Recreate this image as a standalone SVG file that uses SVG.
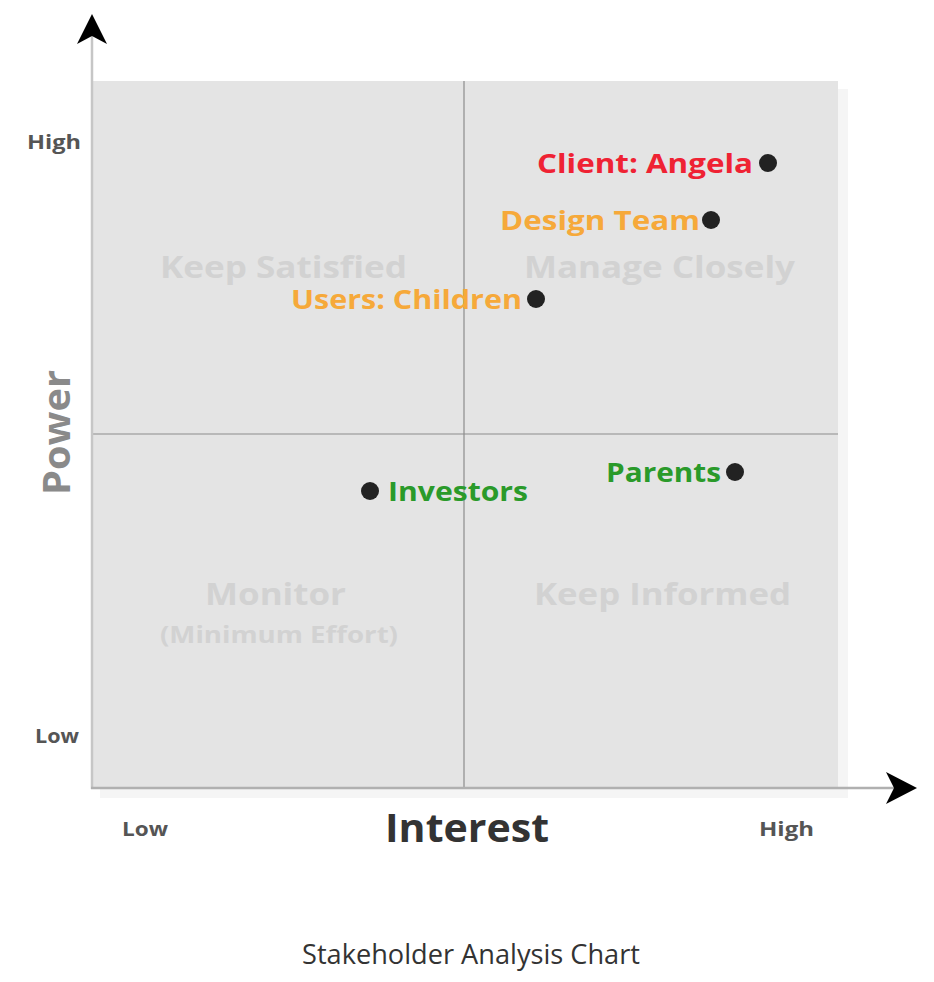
<svg xmlns="http://www.w3.org/2000/svg" width="934" height="982" viewBox="0 0 934 982">
<style>
.lbl{font-family:"Open Sans","Noto Sans","Liberation Sans",sans-serif;font-weight:bold;}
.quad{font-family:"Open Sans","Noto Sans","Liberation Sans",sans-serif;font-weight:bold;fill:#d2d2d2;font-size:30px;}
.stk{font-family:"Open Sans","Noto Sans","Liberation Sans",sans-serif;font-weight:bold;font-size:27px;}
.axl{font-family:"Open Sans","Noto Sans","Liberation Sans",sans-serif;font-weight:bold;fill:#555;font-size:20px;}
.dot{fill:#222;}
</style>
<rect width="934" height="982" fill="#fff"/>
<g id="chart">
<rect x="100" y="89" width="748" height="709" fill="#f5f5f5"/>
<rect x="92" y="81" width="746" height="707" fill="#e4e4e4"/>
<line x1="464" y1="81" x2="464" y2="788" stroke="#8c8c8c" stroke-width="1.2"/>
<line x1="92" y1="434" x2="838" y2="434" stroke="#8c8c8c" stroke-width="1.2"/>
</g>
<g id="axes">
<line x1="92" y1="34" x2="92" y2="789" stroke="#c6c6c6" stroke-width="2.5"/>
<line x1="91" y1="788" x2="900" y2="788" stroke="#b0b0b0" stroke-width="2.5"/>
<path d="M92,14 L107,44 L92,36 L77,44 Z" fill="#000"/>
<path d="M917,788 L886,772 L894,788 L886,804 Z" fill="#000"/>
</g>
<g id="quadrants">
<text class="quad" x="160" y="278" textLength="247" lengthAdjust="spacingAndGlyphs">Keep Satisfied</text>
<text class="quad" x="524" y="278" textLength="271" lengthAdjust="spacingAndGlyphs">Manage Closely</text>
<text class="quad" x="205" y="605" textLength="141" lengthAdjust="spacingAndGlyphs">Monitor</text>
<text class="quad" x="160" y="643" style="font-size:24px" textLength="238" lengthAdjust="spacingAndGlyphs">(Minimum Effort)</text>
<text class="quad" x="534" y="605" textLength="257" lengthAdjust="spacingAndGlyphs">Keep Informed</text>
</g>
<g id="client">
<text class="stk" x="537" y="173" fill="#ef2233" textLength="216" lengthAdjust="spacingAndGlyphs">Client: Angela</text>
<circle class="dot" cx="768" cy="163" r="9"/>
</g>
<g id="design-team">
<text class="stk" x="500" y="230" fill="#f6a93a" textLength="200" lengthAdjust="spacingAndGlyphs">Design Team</text>
<circle class="dot" cx="711" cy="220" r="9"/>
</g>
<g id="users">
<text class="stk" x="291" y="309" fill="#f6a93a" textLength="231" lengthAdjust="spacingAndGlyphs">Users: Children</text>
<circle class="dot" cx="536" cy="299" r="9"/>
</g>
<g id="parents">
<text class="stk" x="606" y="482" fill="#2a9a2a" textLength="115" lengthAdjust="spacingAndGlyphs">Parents</text>
<circle class="dot" cx="735" cy="472" r="9"/>
</g>
<g id="investors">
<text class="stk" x="388" y="501" fill="#2a9a2a" textLength="140" lengthAdjust="spacingAndGlyphs">Investors</text>
<circle class="dot" cx="370" cy="491" r="9"/>
</g>
<g id="axis-labels">
<text class="axl" x="27" y="149" textLength="54" lengthAdjust="spacingAndGlyphs">High</text>
<text class="axl" x="35" y="743" textLength="44" lengthAdjust="spacingAndGlyphs">Low</text>
<text class="axl" x="122" y="836" textLength="46" lengthAdjust="spacingAndGlyphs">Low</text>
<text class="axl" x="759" y="836" textLength="55" lengthAdjust="spacingAndGlyphs">High</text>
<text class="lbl" x="385" y="842" font-size="40" fill="#333" textLength="164" lengthAdjust="spacingAndGlyphs">Interest</text>
<text class="lbl" transform="translate(70,495) rotate(-90)" x="0" y="0" font-size="38" fill="#8a8a8a" textLength="125" lengthAdjust="spacingAndGlyphs">Power</text>
</g>
<text x="302" y="964" font-family="'Open Sans','Noto Sans','Liberation Sans',sans-serif" font-size="27" fill="#333" textLength="338" lengthAdjust="spacingAndGlyphs">Stakeholder Analysis Chart</text>
</svg>
